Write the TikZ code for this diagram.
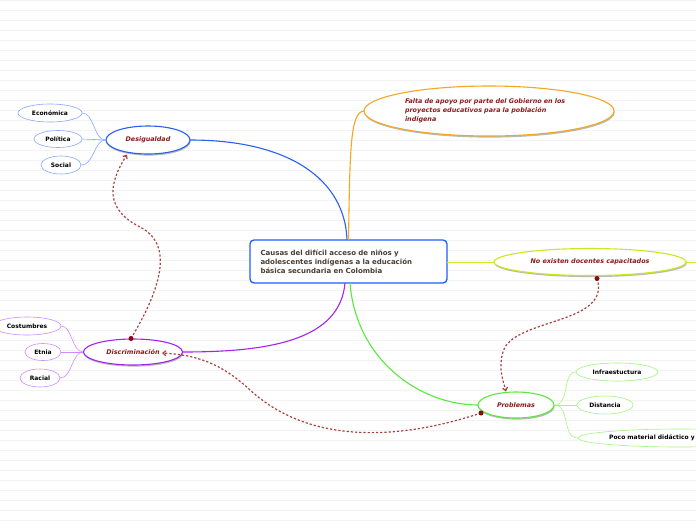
\documentclass[tikz,border=0pt]{standalone}
\usepackage{fontspec}
\setmainfont{DejaVu Sans}
\usetikzlibrary{shapes.geometric,shadows,arrows.meta}
\definecolor{bgline}{HTML}{F3F3F3}
\definecolor{boxblue}{HTML}{1F5BFF}
\definecolor{mblue}{HTML}{2A5FF0}
\definecolor{sblue}{HTML}{86A8FF}
\definecolor{morange}{HTML}{F5A623}
\definecolor{mygreen}{HTML}{CDE622}
\definecolor{mpurple}{HTML}{A424EE}
\definecolor{spurple}{HTML}{CF8CFF}
\definecolor{mgreen}{HTML}{5AE83E}
\definecolor{sgreen}{HTML}{A2F57E}
\definecolor{dred}{HTML}{8B1A1A}
\definecolor{dashc}{HTML}{A8413E}
\definecolor{dotc}{HTML}{8B0A0A}
\definecolor{ctext}{HTML}{4A3D33}
\tikzset{
  txt/.style={font=\fontsize{6}{9}\selectfont\bfseries},
  mainell/.style={ellipse, draw, line width=1.1pt, fill=white, inner sep=0pt,
    text=dred, font=\fontsize{6.4}{9}\selectfont\bfseries\itshape,
    drop shadow={shadow xshift=0.6pt, shadow yshift=-1.6pt, fill=black!45, opacity=0.6}},
  subell/.style={ellipse, draw, line width=0.6pt, fill=white, inner sep=0pt, txt, text=black},
  link/.style={dashc, line width=1.2pt, dash pattern=on 2.2pt off 2pt},
  linkdot/.style={circle, fill=dotc, inner sep=0pt, minimum size=5pt},
}
\begin{document}
\begin{tikzpicture}[x=1pt,y=-1pt]
\useasboundingbox (0,0) rectangle (696,520);
\clip (0,0) rectangle (696,520);
\fill[white] (0,0) rectangle (696,520);
\foreach \yy in {0,10,...,520} \draw[bgline, line width=0.6pt] (0,\yy+0.3) -- (696,\yy+0.3);

% connector end points on the central box
\coordinate (ctop1) at (347,240);
\coordinate (ctop2) at (348.5,240);
\coordinate (cbot1) at (345,283);
\coordinate (cbot2) at (350,283);
\coordinate (cright) at (447,262);

% central node
\node[draw=boxblue, line width=1.3pt, rounded corners=4pt, fill=white, minimum width=197pt, minimum height=43pt,
  text width=176pt, align=left, font=\fontsize{7}{9}\selectfont\bfseries, text=ctext, inner sep=0pt] (center) at (348.5,261.5)
  {Causas del difícil acceso de niños y\\adolescentes indígenas a la educación\\básica secundaria en Colombia};

\draw[mblue, line width=1.1pt] (ctop1) .. controls (345,180) and (290,140) .. (190,140);
\draw[morange, line width=1.1pt] (ctop2) .. controls (350,150) and (350,112) .. (364,111);
\draw[mygreen, line width=0.9pt] (cright) -- (494,262);
\draw[mygreen, line width=0.9pt] (686,262) -- (696,262);
\draw[mpurple, line width=1.1pt] (cbot1) .. controls (340,340) and (270,352) .. (183,352);
\draw[mgreen, line width=1.1pt] (cbot2) .. controls (356,360) and (420,405) .. (478,405);

\node[mainell, draw=mblue, minimum width=84pt, minimum height=28pt] (desig) at (148,140) {Desigualdad};
\node[mainell, draw=mpurple, minimum width=99pt, minimum height=26pt] (discr) at (133,352) {Discriminación};
\node[mainell, draw=mgreen, minimum width=76pt, minimum height=26pt] (probl) at (516,405) {Problemas};
\node[mainell, draw=morange, minimum width=250pt, minimum height=50pt, text width=168pt, align=left] (falta) at (489,111)
  {Falta de apoyo por parte del Gobierno en los\\proyectos educativos para la población\\indígena};
\node[mainell, draw=mygreen, minimum width=192pt, minimum height=27pt] (noexist) at (590,262) {No existen docentes capacitados};

% sub nodes
\node[subell, draw=sblue, minimum width=64pt, minimum height=18pt] (econ) at (50,113) {Económica};
\node[subell, draw=sblue, minimum width=48pt, minimum height=17pt] (polit) at (58,139) {Política};
\node[subell, draw=sblue, minimum width=40pt, minimum height=18pt] (social) at (61,165) {Social};
\node[subell, draw=spurple, minimum width=68pt, minimum height=18pt] (costum) at (27,326) {Costumbres};
\node[subell, draw=spurple, minimum width=36pt, minimum height=17pt] (etnia) at (43,352) {Etnia};
\node[subell, draw=spurple, minimum width=40pt, minimum height=18pt] (racial) at (40,378) {Racial};
\node[subell, draw=sgreen, minimum width=82pt, minimum height=18pt] (infra) at (617,372) {Infraestuctura};
\node[subell, draw=sgreen, minimum width=56pt, minimum height=18pt] (dist) at (605,405) {Distancia};
\node[subell, draw=sgreen, minimum width=204pt, minimum height=18pt] (poco) at (680,438) {};
\node[txt, anchor=west, inner sep=0pt] (pocotxt) at (609,438) {Poco material didáctico y};

% sub connectors
\draw[sblue, line width=0.6pt] (desig.west) .. controls (94,140) and (94,113) .. (econ.east);
\draw[sblue, line width=0.6pt] (desig.west) -- (polit.east);
\draw[sblue, line width=0.6pt] (desig.west) .. controls (94,140) and (94,165) .. (social.east);
\draw[spurple, line width=0.6pt] (discr.west) .. controls (72,352) and (72,326) .. (costum.east);
\draw[spurple, line width=0.6pt] (discr.west) -- (etnia.east);
\draw[spurple, line width=0.6pt] (discr.west) .. controls (72,352) and (72,378) .. (racial.east);
\draw[sgreen, line width=0.6pt] (probl.east) .. controls (570,405) and (562,372) .. (infra.west);
\draw[sgreen, line width=0.6pt] (probl.east) -- (dist.west);
\draw[sgreen, line width=0.6pt] (probl.east) .. controls (570,405) and (562,438) .. (poco.west);

% dashed relation links
\coordinate (l1s) at (131,338.5);
\coordinate (l1m) at (140,227);
\coordinate (l1e) at (127,154.5);
\draw[link, -{Straight Barb[length=3pt,width=5pt]}] (l1s) .. controls (160,290) and (175,245) .. (l1m)
   .. controls (105,209) and (108,185) .. (l1e);
\node[linkdot] (d1) at (l1s) {};

\coordinate (l2s) at (481,413);
\coordinate (l2m) at (250,390);
\coordinate (l2e) at (162,353);
\draw[link, -{Straight Barb[length=3pt,width=5pt]}] (l2s) .. controls (400,440) and (310,445) .. (l2m)
   .. controls (220,362) and (195,355) .. (l2e);
\node[linkdot] (d2) at (l2s) {};

\coordinate (l3s) at (597,278.5);
\coordinate (l3m) at (503,352);
\coordinate (l3e) at (506,391.5);
\draw[link, -{Straight Barb[length=3pt,width=5pt]}] (l3s) .. controls (612,325) and (512,318) .. (l3m)
   .. controls (498,368) and (503,380) .. (l3e);
\node[linkdot] (d3) at (l3s) {};
\end{tikzpicture}
\end{document}
